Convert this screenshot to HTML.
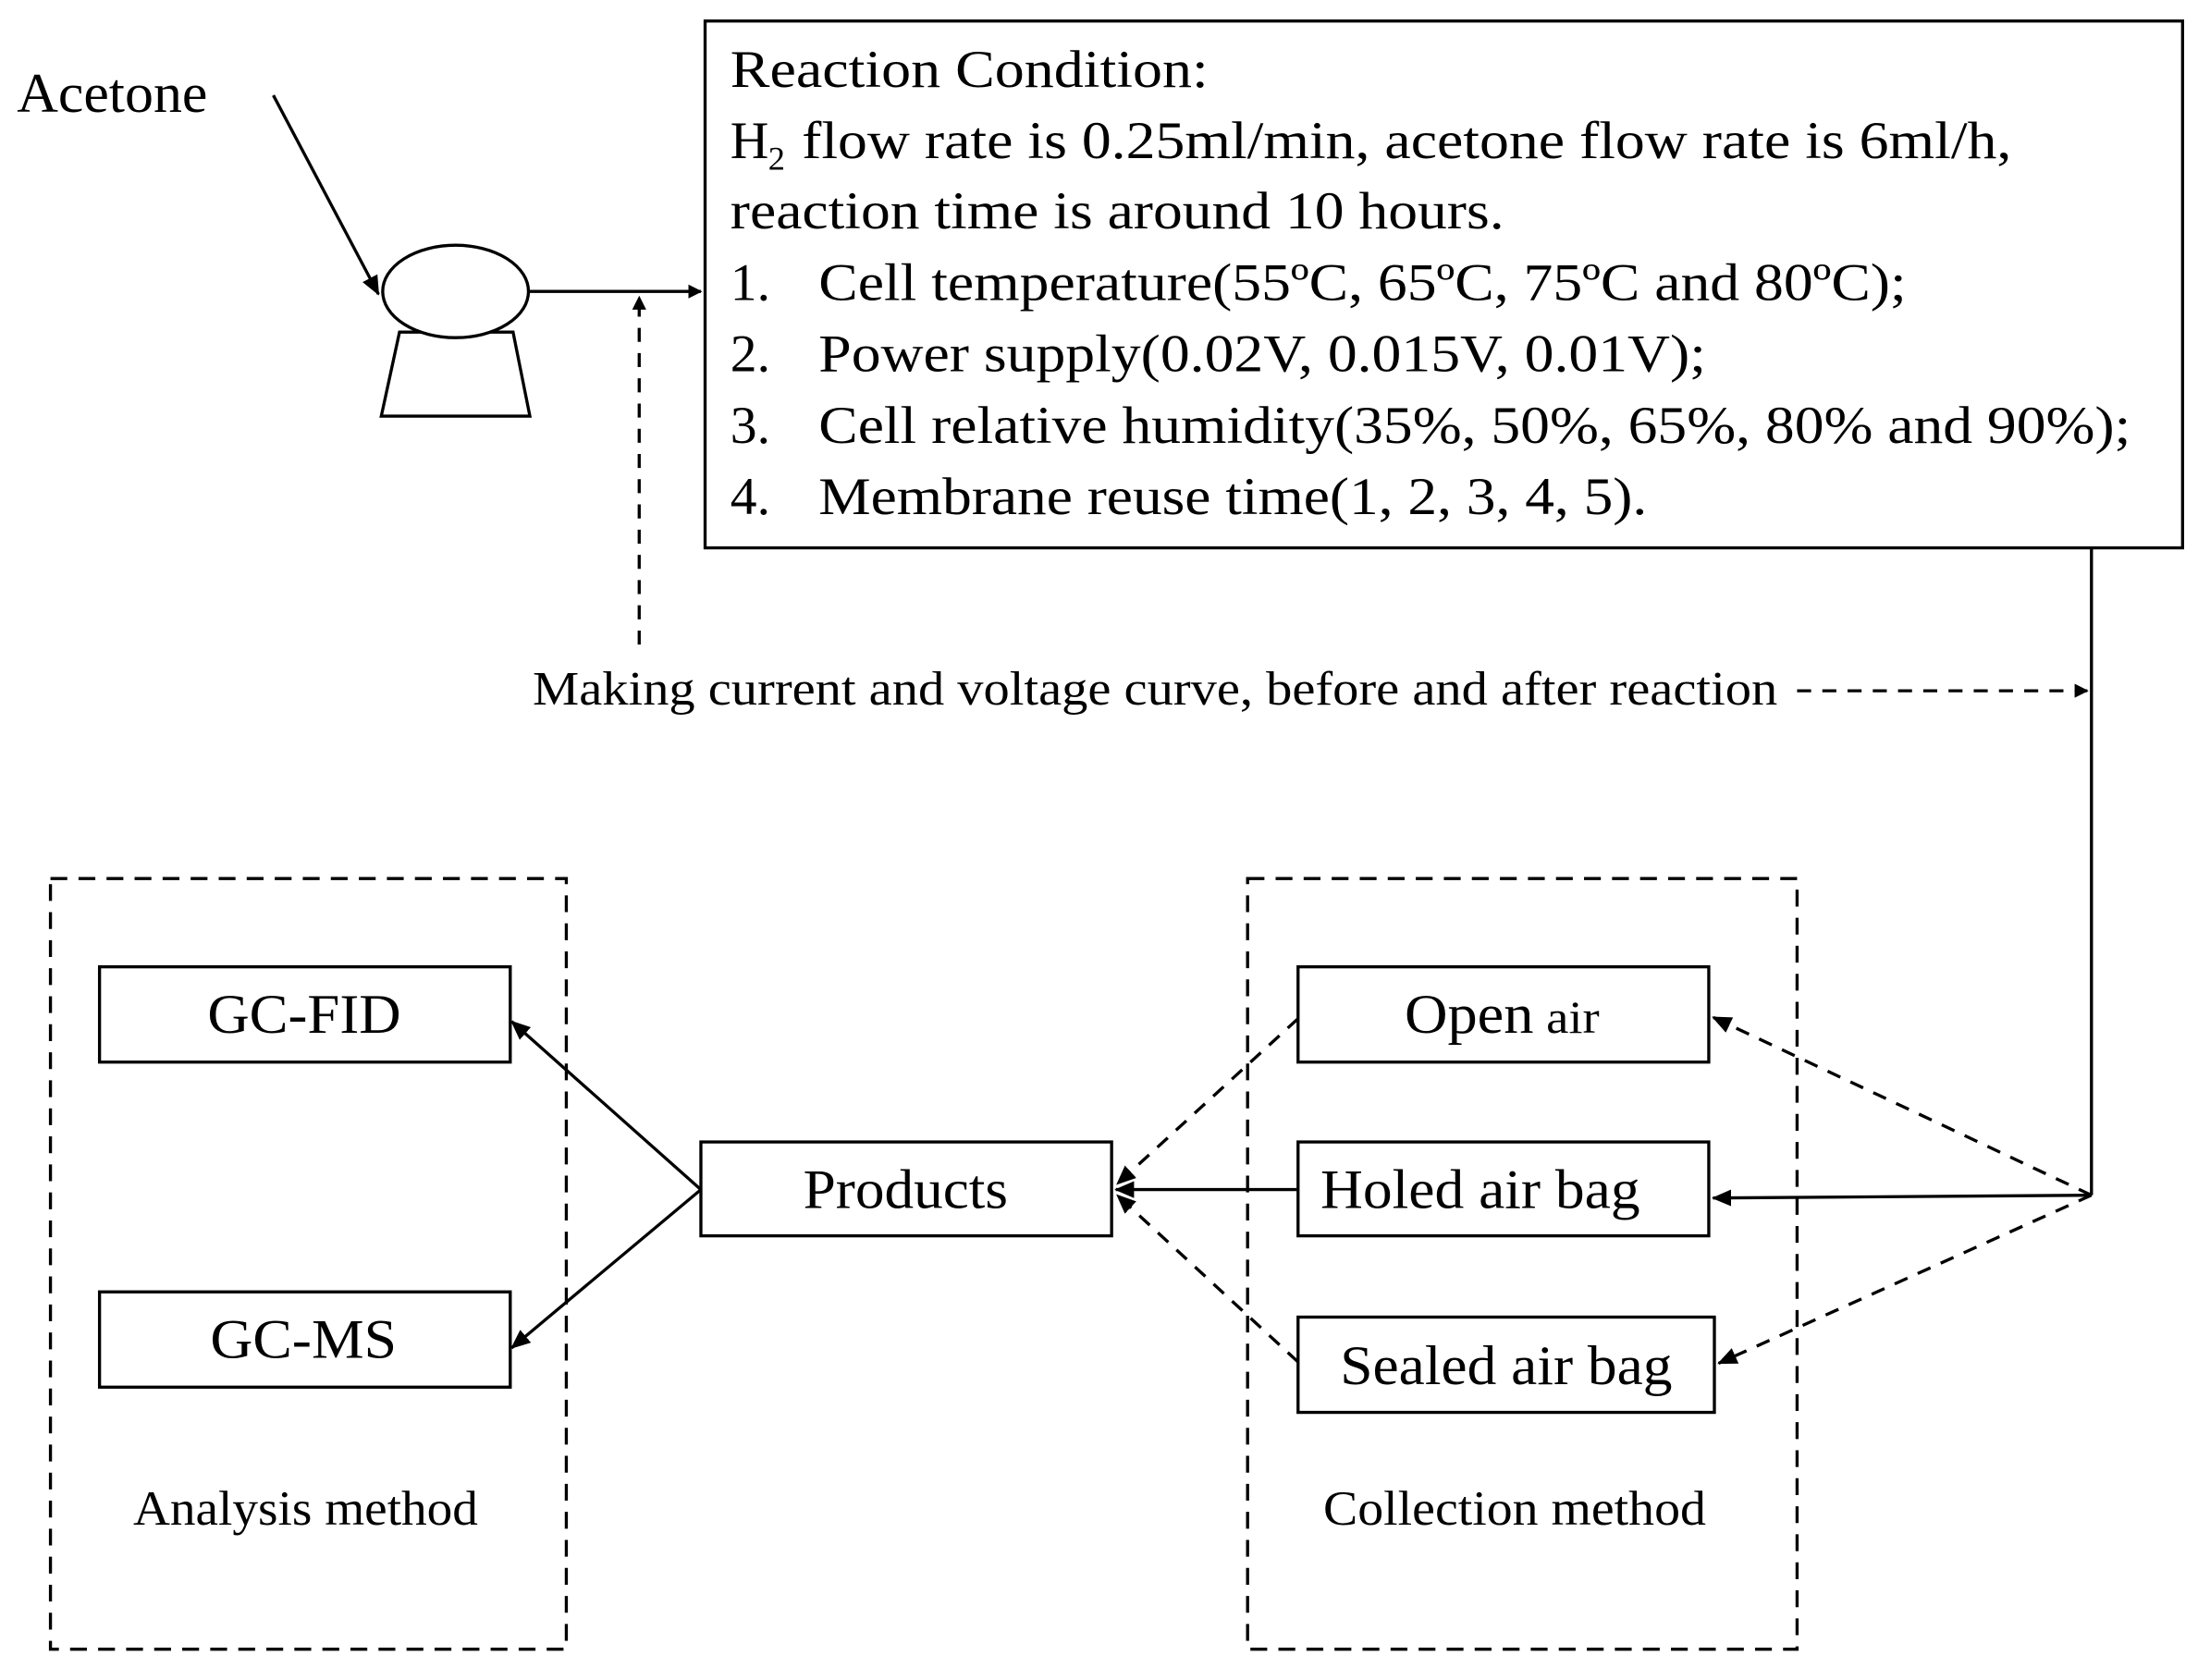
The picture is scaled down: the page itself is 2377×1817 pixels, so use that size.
<!DOCTYPE html>
<html><head><meta charset="utf-8"><style>
html,body{margin:0;padding:0;background:#fff;}
svg{display:block;}
text{font-family:"Liberation Serif",serif;fill:#000;}
</style></head><body>
<svg width="2377" height="1817" viewBox="0 0 1568 1199" preserveAspectRatio="none" xmlns="http://www.w3.org/2000/svg">
<defs>
<marker id="a" markerWidth="10" markerHeight="10" refX="9" refY="5" orient="auto" markerUnits="userSpaceOnUse"><path d="M0,0 L10,5 L0,10 z" fill="#000"/></marker>
<marker id="b" markerWidth="14" markerHeight="14" refX="13" refY="7" orient="auto" markerUnits="userSpaceOnUse"><path d="M0,1 L14,7 L0,13 z" fill="#000"/></marker>
</defs>
<g stroke="#000" stroke-width="2.2" fill="none">
<line x1="195" y1="68" x2="270" y2="210" marker-end="url(#b)"/>
<path d="M285,237 L366,237 L378,297 L272,297 Z"/>
<ellipse cx="325" cy="208" rx="52" ry="33" fill="#fff"/>
<line x1="378" y1="208" x2="500" y2="208" marker-end="url(#a)"/>
<line x1="456" y1="460" x2="456" y2="212" stroke-dasharray="10,8" marker-end="url(#a)"/>
<rect x="503" y="15" width="1054" height="376"/>
<line x1="1492" y1="391" x2="1492" y2="853"/>
<line x1="1282" y1="493" x2="1489" y2="493" stroke-dasharray="10,8" marker-end="url(#a)"/>
<rect x="36" y="627" width="368" height="550" stroke-dasharray="12,8"/>
<rect x="890" y="627" width="392" height="550" stroke-dasharray="12,8"/>
<rect x="71" y="690" width="293" height="68"/>
<rect x="71" y="922" width="293" height="68"/>
<rect x="500" y="815" width="293" height="67"/>
<rect x="926" y="690" width="293" height="68"/>
<rect x="926" y="815" width="293" height="67"/>
<rect x="926" y="940" width="297" height="68"/>
<line x1="500" y1="849" x2="365" y2="729" marker-end="url(#b)"/>
<line x1="500" y1="849" x2="365" y2="962" marker-end="url(#b)"/>
<line x1="926" y1="849" x2="796" y2="849" marker-end="url(#b)"/>
<line x1="926" y1="727" x2="797" y2="845" stroke-dasharray="10,8" marker-end="url(#b)"/>
<line x1="926" y1="972" x2="797" y2="853" stroke-dasharray="10,8" marker-end="url(#b)"/>
<line x1="1492" y1="853" x2="1222" y2="855" marker-end="url(#b)"/>
<line x1="1492" y1="853" x2="1222" y2="726" stroke-dasharray="10,8" marker-end="url(#b)"/>
<line x1="1492" y1="853" x2="1226" y2="973" stroke-dasharray="10,8" marker-end="url(#b)"/>
</g>
<text x="12" y="80" font-size="40" textLength="136" lengthAdjust="spacingAndGlyphs">Acetone</text>
<g font-size="38">
<text x="521" y="62" textLength="341" lengthAdjust="spacingAndGlyphs">Reaction Condition:</text>
<text x="521" y="113">H</text><text x="548" y="121" font-size="24">2</text>
<text x="572" y="113" textLength="863" lengthAdjust="spacingAndGlyphs">flow rate is 0.25ml/min, acetone flow rate is 6ml/h,</text>
<text x="521" y="163" textLength="552" lengthAdjust="spacingAndGlyphs">reaction time is around 10 hours.</text>
<text x="521" y="214">1.</text><text x="584" y="214" textLength="776" lengthAdjust="spacingAndGlyphs">Cell temperature(55ºC, 65ºC, 75ºC and 80ºC);</text>
<text x="521" y="265">2.</text><text x="584" y="265" textLength="633" lengthAdjust="spacingAndGlyphs">Power supply(0.02V, 0.015V, 0.01V);</text>
<text x="521" y="316">3.</text><text x="584" y="316" textLength="936" lengthAdjust="spacingAndGlyphs">Cell relative humidity(35%, 50%, 65%, 80% and 90%);</text>
<text x="521" y="367">4.</text><text x="584" y="367" textLength="591" lengthAdjust="spacingAndGlyphs">Membrane reuse time(1, 2, 3, 4, 5).</text>
</g>
<text x="380" y="503" font-size="34" textLength="888" lengthAdjust="spacingAndGlyphs">Making current and voltage curve, before and after reaction</text>
<g font-size="40">
<text x="148" y="737" textLength="138" lengthAdjust="spacingAndGlyphs">GC-FID</text>
<text x="150" y="969" textLength="133" lengthAdjust="spacingAndGlyphs">GC-MS</text>
<text x="573" y="862" textLength="146" lengthAdjust="spacingAndGlyphs">Products</text>
<text x="1002" y="737" textLength="92" lengthAdjust="spacingAndGlyphs">Open</text><text x="1103" y="737" font-size="33" textLength="38" lengthAdjust="spacingAndGlyphs">air</text>
<text x="942" y="862" textLength="228" lengthAdjust="spacingAndGlyphs">Holed air bag</text>
<text x="956" y="988" textLength="237" lengthAdjust="spacingAndGlyphs">Sealed air bag</text>
</g>
<g font-size="35">
<text x="95" y="1088" textLength="246" lengthAdjust="spacingAndGlyphs">Analysis  method</text>
<text x="944" y="1088" textLength="273" lengthAdjust="spacingAndGlyphs">Collection  method</text>
</g>
</svg>
</body></html>
